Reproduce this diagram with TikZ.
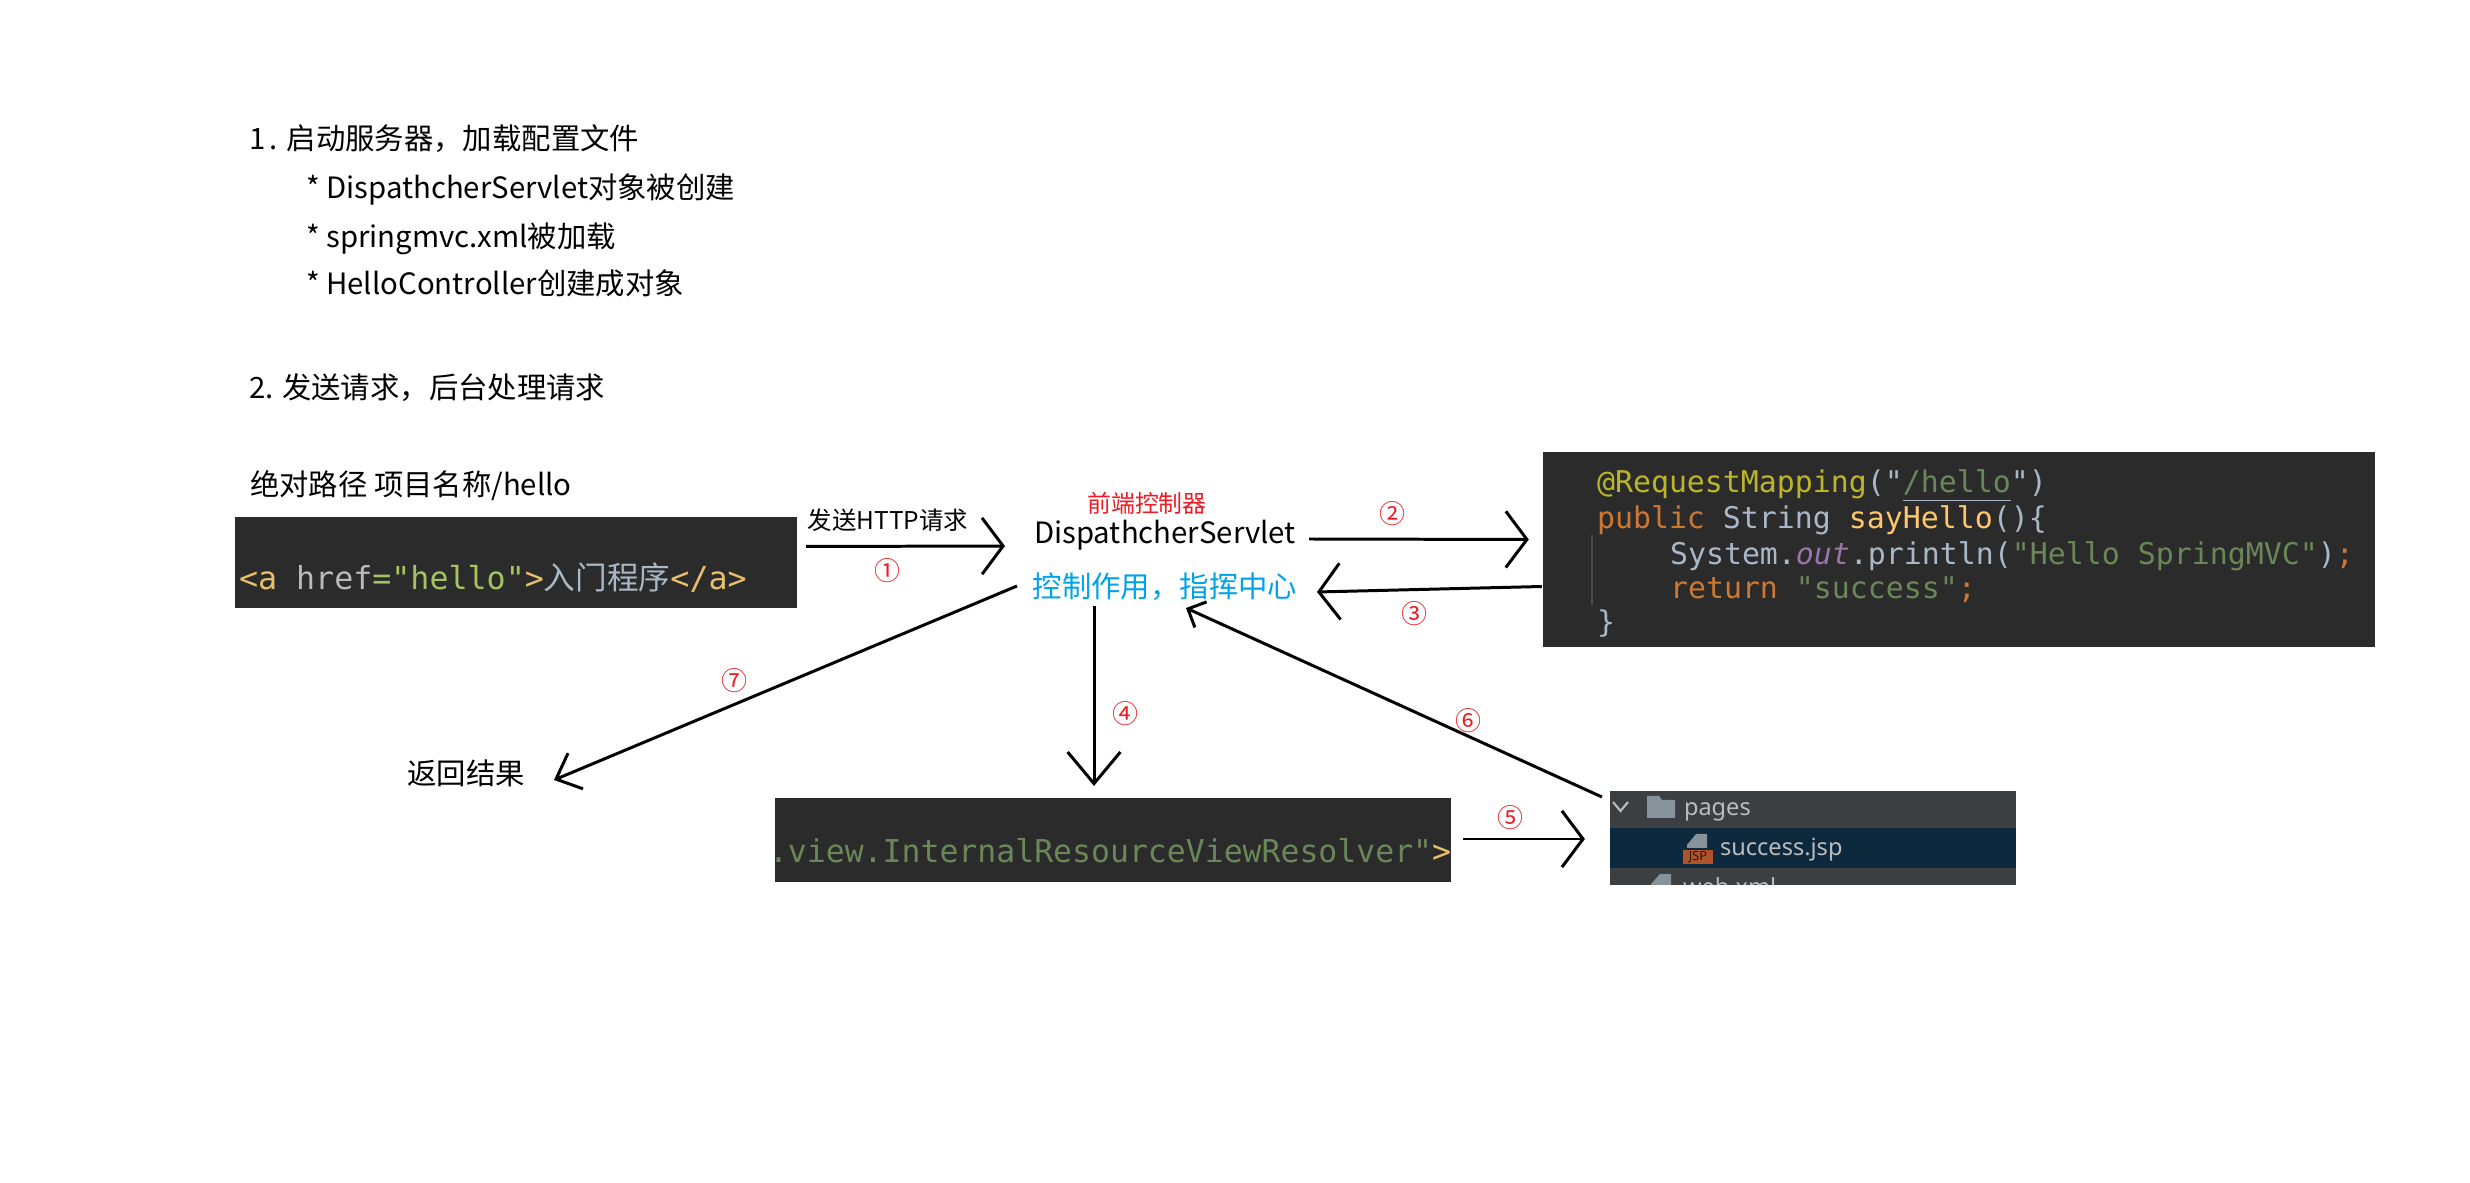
\documentclass[tikz,border=0pt]{standalone}
\usepackage{fontspec}
\usepackage{tikz}
\usetikzlibrary{arrows.meta}
\setmainfont{Noto Sans CJK SC}
\setmonofont{DejaVu Sans Mono}
\newfontfamily\uifont{Noto Sans}
\definecolor{codebg}{HTML}{2B2B2B}
\definecolor{codeplain}{HTML}{A9B7C6}
\definecolor{codekey}{HTML}{CC7832}
\definecolor{codestr}{HTML}{6A8759}
\definecolor{codeanno}{HTML}{BBB529}
\definecolor{codefunc}{HTML}{FFC66D}
\definecolor{codefield}{HTML}{9876AA}
\definecolor{tagcol}{HTML}{E8BF6A}
\definecolor{attrcol}{HTML}{BABABA}
\definecolor{valcol}{HTML}{A5C261}
\definecolor{treebg}{HTML}{3C3F41}
\definecolor{treesel}{HTML}{0D293E}
\definecolor{treetext}{HTML}{BBBBBB}
\definecolor{treeicon}{HTML}{87939A}
\definecolor{jspcol}{HTML}{B0532A}
\definecolor{rolecol}{HTML}{00A2E8}
\definecolor{numcol}{HTML}{ED1C24}
\begin{document}
\begin{tikzpicture}[x=0.01cm, y=-0.01cm,
	every node/.style={inner sep=0pt, outer sep=0pt},
	txt/.style={font=\fontsize{8.35}{10}\selectfont, text=black},
	smalltxt/.style={font=\fontsize{6.95}{8}\selectfont, text=black},
	stepnum/.style={font=\fontsize{7.4}{8}\selectfont, text=numcol},
	darkbox/.style={fill=codebg},
	codeline/.style={anchor=west, font=\fontsize{8.5}{10}\ttfamily, text=codeplain},
	flow/.style={line width=0.85pt, -{Straight Barb[length=6pt, width=16pt]}},
	flowsmall/.style={line width=0.85pt, -{Straight Barb[length=4pt, width=8pt]}},
	flowdeep/.style={line width=0.85pt, -{Straight Barb[length=9pt, width=15pt]}},
	flowback/.style={line width=0.85pt, -{Straight Barb[length=6pt, width=11pt]}}]
	\useasboundingbox (0,0) rectangle (2470,1183);

	% Steps text
	\node[txt, anchor=west] (startA) at (249,139) {1\kern1.3pt. 启动服务器，加载配置文件};
	\node[txt, anchor=west] (startB) at (306,189) {* DispathcherServlet对象被创建};
	\node[txt, anchor=west] (startC) at (306,239) {* springmvc.xml被加载};
	\node[txt, anchor=west] (startD) at (306,283) {* HelloController创建成对象};
	\node[txt, anchor=west] (sendA) at (249,388) {2. 发送请求，后台处理请求};
	\node[txt, anchor=west] (path) at (250,486) {绝对路径 项目名称/hello};

	% Code boxes
	\node[darkbox, minimum width=5.62cm, minimum height=0.91cm] (hrefbox) at (516,562.5) {};
	\node[anchor=west, font=\fontsize{9}{10}\ttfamily, text=tagcol] (hrefline) at (239,578)
		{<a \textcolor{attrcol}{href}\textcolor{valcol}{="hello"}>\textcolor{codeplain}{\rmfamily 入门程序}</a>};
	\node[darkbox, minimum width=8.32cm, minimum height=1.95cm] (mappingbox) at (1959,549.5) {};
	\node[codeline] (lineA) at (1597,486) {\textcolor{codeanno}{@RequestMapping}("{\color{codeplain}\underline{\textcolor{codestr}{/hello}}}")};
	\node[codeline] (lineB) at (1597,520) {\textcolor{codekey}{public} String \textcolor{codefunc}{sayHello}()\{};
	\node[codeline] (lineC) at (1670,556) {System.\textcolor{codefield}{\itshape out}.println(\textcolor{codestr}{"Hello SpringMVC"})\textcolor{codekey}{;}};
	\node[codeline] (lineD) at (1670,590) {\textcolor{codekey}{return} \textcolor{codestr}{"success"}\textcolor{codekey}{;}};
	\node[codeline] (lineE) at (1597,624) {\}};
	\draw[color=codebg!85!white, line width=0.3pt] (1592,535) -- (1592,605);
	\node[darkbox, minimum width=6.76cm, minimum height=0.84cm] (resolverbox) at (1113,840) {};
	\node[anchor=west, font=\fontsize{8.95}{10}\ttfamily, text=codestr] (resolverline) at (769,851)
		{.view.InternalResourceViewResolver"\textcolor{tagcol}{>}};

	% File tree
	\node[fill=treebg, minimum width=4.06cm, minimum height=0.94cm] (pagesbox) at (1813,838) {};
	\fill[treesel] (1610,828) rectangle (2016,868);
	\draw[treetext, line width=0.6pt] (1613,802) -- (1620.5,811) -- (1628,802);
	\fill[treeicon] (1647,796) -- (1659,796) -- (1662,800) -- (1675,800) -- (1675,818) -- (1647,818) -- cycle;
	\node[anchor=west, font=\uifont\fontsize{6.7}{8}\selectfont, text=treetext] (pages) at (1684,812) {pages};
	\fill[treeicon] (1687,848) -- (1687,845) -- (1696,834) -- (1707,834) -- (1707,848) -- cycle;
	\node[fill=jspcol, minimum width=0.30cm, minimum height=0.14cm, font=\uifont\bfseries\fontsize{3.6}{4}\selectfont, text=black!75!jspcol] (jsp) at (1698,857) {JSP};
	\node[anchor=west, font=\uifont\fontsize{6.7}{8}\selectfont, text=treetext] (success) at (1720,850) {success.jsp};
	\begin{scope}
		\clip (1610,868) rectangle (2016,885);
		\fill[treeicon] (1651,890) -- (1651,884) -- (1660,874) -- (1671,874) -- (1671,890) -- cycle;
		\node[anchor=west, font=\uifont\fontsize{6.7}{8}\selectfont, text=treetext] (webxml) at (1683,887) {web.xml};
	\end{scope}

	% Nodes
	\node[smalltxt] (sendhttp) at (888,520) {发送HTTP请求};
	\node[font=\fontsize{6.8}{8}\selectfont, text=numcol] (front) at (1147,503) {前端控制器};
	\node[txt] (servlet) at (1165,535) {DispathcherServlet};
	\node[txt, text=rolecol] (role) at (1165,587) {控制作用，指挥中心};
	\node[txt] (result) at (466,773) {返回结果};

	% Edges
	\path[flow] ([shift={(9,-16)}]hrefbox.east) edge ([shift={(-160,11)}]servlet.center);
	\path[flow] ([shift={(144,4)}]servlet.center) edge ([shift={(-14,-10)}]mappingbox.west);
	\path[flow] ([shift={(-1,37)}]mappingbox.west) edge ([shift={(152,5)}]role.center);
	\path[flowdeep] ([shift={(-71,19)}]role.center) edge ([shift={(-19,-12)}]resolverbox.north);
	\path[flow] ([shift={(12,-1)}]resolverbox.east) edge ([shift={(-25,1)}]pagesbox.west);
	\path[flowsmall] ([shift={(-8,6)}]pagesbox.north west) edge ([shift={(21,21)}]role.center);
	\path[flowback] ([shift={(-148,-1)}]role.center) edge ([shift={(88,7)}]result.center);

	% Step numbers
	\node[stepnum] (numA) at (887,571) {①};
	\node[stepnum] (numB) at (1392,514) {②};
	\node[stepnum] (numC) at (1414,614) {③};
	\node[stepnum] (numD) at (1125,714) {④};
	\node[stepnum] (numE) at (1510,818) {⑤};
	\node[stepnum] (numF) at (1468,721) {⑥};
	\node[stepnum] (numG) at (735,681) {⑦};
\end{tikzpicture}
\end{document}
